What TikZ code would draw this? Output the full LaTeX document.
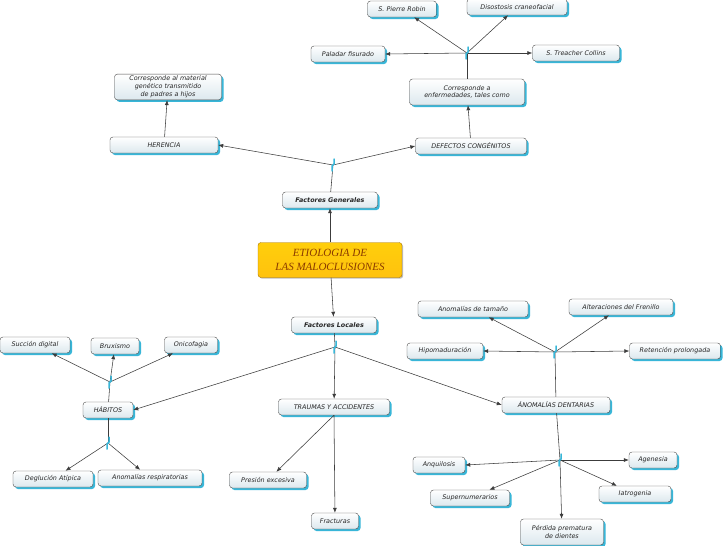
\documentclass[tikz,border=0pt]{standalone}
\usepackage{fontspec}
\setmainfont{DejaVu Sans}
\newfontfamily\etiofont{Liberation Serif}
\usepackage{tikz}
\usetikzlibrary{calc}
\usetikzlibrary{shadows}
\usetikzlibrary{arrows.meta}
\definecolor{boxline}{HTML}{4A4A4A}
\definecolor{boxfill}{HTML}{DCE8EE}
\definecolor{boxshadow}{HTML}{38B6D8}
\definecolor{etiofill}{HTML}{FFC20E}
\definecolor{etioline}{HTML}{A87400}
\definecolor{etiotext}{HTML}{8A3A00}
\definecolor{linkline}{HTML}{3C3C3C}
\newcommand{\drawhub}[1]{\draw[hubline] ($(#1)+(-1,6)$) -- ($(#1)+(-1,1)$) -- ($(#1)+(1,-1)$) -- ($(#1)+(1,-6)$);}

\begin{document}
\begin{tikzpicture}[x=1pt,y=-1pt,
    cbox/.style={draw=boxline, rounded corners=3pt, top color=white, bottom color=boxfill,
      drop shadow={shadow xshift=2pt, shadow yshift=-2pt, fill=boxshadow, opacity=1},
      minimum height=16, inner xsep=3pt, inner ysep=2pt, align=center, text=black!85,
      font=\fontsize{6.4}{7.8}\selectfont\itshape},
    etiobox/.style={draw=etioline, rounded corners=3pt, top color=etiofill!80!yellow, bottom color=etiofill,
      drop shadow={shadow xshift=1.2pt, shadow yshift=-1.2pt, fill=black!25, opacity=1},
      minimum width=144, minimum height=35, align=center, text=etiotext,
      font=\etiofont\fontsize{11}{13.5}\selectfont\itshape},
    link/.style={draw=linkline, line width=0.55pt},
    arr/.style={link, -{Latex[length=5pt,width=4pt]}},
    hubline/.style={draw=boxshadow, line width=1.5pt, line cap=round}]
        \useasboundingbox[fill=white] (0,0) rectangle (728,546);
        %centre
        \node[etiobox] (etio) at (330,260) {ETIOLOGIA DE\\LAS MALOCLUSIONES};
        \node[cbox, minimum width=95, font=\fontsize{6.4}{7.8}\selectfont\itshape\bfseries] (fgen) at (330,200) {Factores Generales};
        \node[cbox, minimum width=85, font=\fontsize{6.4}{7.8}\selectfont\itshape\bfseries] (floc) at (334,325) {Factores Locales};
        %factores generales
        \node[cbox, minimum width=108] (herencia) at (164,145) {HERENCIA};
        \node[cbox, minimum width=107] (material) at (168,87) {Corresponde al material\\genético transmitido\\de padres a hijos};
        \node[cbox, minimum width=111] (defectos) at (471,146) {DEFECTOS CONGÉNITOS};
        \node[cbox, minimum width=115, minimum height=26] (enferm) at (467,92) {Corresponde a\\enfermedades, tales como};
        \node[cbox, minimum width=69] (pierre) at (402,9) {S. Pierre Robin};
        \node[cbox, minimum width=100] (disost) at (517,7) {Disostosis craneofacial};
        \node[cbox, minimum width=74] (paladar) at (348,54) {Paladar fisurado};
        \node[cbox, minimum width=87] (treacher) at (576,53) {S. Treacher Collins};
        %factores locales
        \node[cbox, minimum width=50] (habitos) at (108,410) {HÁBITOS};
        \node[cbox, minimum width=70] (succion) at (35,345) {Succión digital};
        \node[cbox, minimum width=48] (bruxismo) at (115,346) {Bruxismo};
        \node[cbox, minimum width=53] (onicof) at (191,345) {Onicofagia};
        \node[cbox, minimum width=80] (deglu) at (53,479) {Deglución Atípica};
        \node[cbox, minimum width=104] (respir) at (150,478) {Anomalías respiratorias};
        \node[cbox, minimum width=111] (traumas) at (334,407) {TRAUMAS Y ACCIDENTES};
        \node[cbox, minimum width=77] (presion) at (268,480) {Presión excesiva};
        \node[cbox, minimum width=47] (fract) at (335,521) {Fracturas};
        \node[cbox, minimum width=108] (dentar) at (556,405) {ÁNOMALÍAS DENTARIAS};
        \node[cbox, minimum width=110] (tamano) at (473,309) {Anomalías de tamaño};
        \node[cbox, minimum width=104] (frenillo) at (621,307) {Alteraciones del Frenillo};
        \node[cbox, minimum width=76] (hipomad) at (445,351) {Hipomaduración};
        \node[cbox, minimum width=91] (retenc) at (675,351) {Retención prolongada};
        \node[cbox, minimum width=52] (anquil) at (439,465) {Anquilosis};
        \node[cbox, minimum width=48] (agenes) at (653,460) {Agenesia};
        \node[cbox, minimum width=79] (supern) at (470,498) {Supernumerarios};
        \node[cbox, minimum width=72] (iatrog) at (635,494) {Iatrogenia};
        \node[cbox, minimum width=83, minimum height=26] (perdida) at (562,532) {Pérdida prematura\\de dientes};
        %junctions
        \coordinate (jgen) at (333,165);
        \coordinate (jenf) at (467,53);
        \coordinate (jloc) at (335,347);
        \coordinate (jhabup) at (110,382);
        \coordinate (jhabdn) at (108,443);
        \coordinate (jdentup) at (555,352);
        \coordinate (jdentdn) at (560,460);
        %links
        \draw[arr] (etio) -- (fgen);
        \draw[link] (fgen) -- (jgen);
        \draw[arr] (jgen) -- (herencia.east);
        \draw[arr] (jgen) -- (defectos.west);
        \draw[arr] (herencia) -- (material);
        \draw[arr] (defectos) -- (enferm);
        \draw[link] (enferm) -- (jenf);
        \foreach \leaf in {pierre, disost} {\draw[arr] (jenf) -- (\leaf);}
        \draw[arr] (jenf) -- (paladar.east);
        \draw[arr] (jenf) -- (treacher.west);
        \draw[arr] (etio) -- (floc);
        \draw[link] (floc) -- (jloc);
        \draw[arr] (jloc) -- (habitos.east);
        \draw[arr] (jloc) -- (traumas);
        \draw[arr] (jloc) -- (dentar.west);
        \draw[link] (habitos) -- (jhabup);
        \foreach \leaf in {succion, bruxismo, onicof} {\draw[arr] (jhabup) -- (\leaf);}
        \draw[link] (habitos) -- (jhabdn);
        \foreach \leaf in {deglu, respir} {\draw[arr] (jhabdn) -- (\leaf);}
        \foreach \leaf in {presion, fract} {\draw[arr] (traumas.south) -- (\leaf);}
        \draw[link] (dentar) -- (jdentup);
        \foreach \leaf in {tamano, frenillo} {\draw[arr] (jdentup) -- (\leaf);}
        \draw[arr] (jdentup) -- (hipomad.east);
        \draw[arr] (jdentup) -- (retenc.west);
        \draw[link] (dentar) -- (jdentdn);
        \foreach \leaf in {supern, iatrog, perdida} {\draw[arr] (jdentdn) -- (\leaf);}
        \draw[arr] (jdentdn) -- (anquil.east);
        \draw[arr] (jdentdn) -- (agenes.west);
        \foreach \j in {jgen, jenf, jloc, jhabup, jhabdn, jdentup, jdentdn} {\drawhub{\j}}
\end{tikzpicture}
\end{document}
